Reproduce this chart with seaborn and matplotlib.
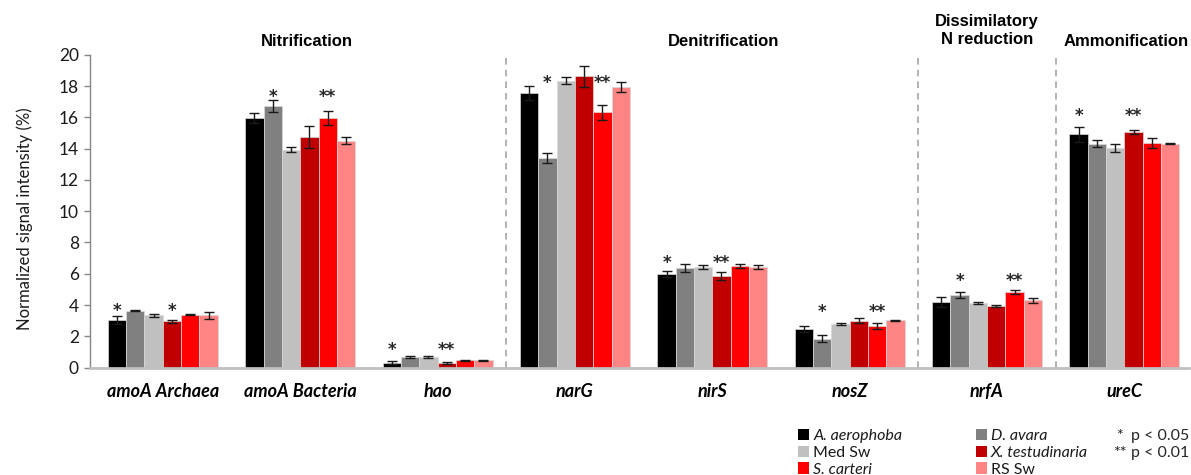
import numpy as np
import pandas as pd
import matplotlib
matplotlib.use("Agg")
import matplotlib.pyplot as plt
import seaborn as sns
from matplotlib.patches import Patch, Rectangle

# Genes (x categories) and sample series
genes = ["amoA Archaea", "amoA Bacteria", "hao", "narG", "nirS", "nosZ", "nrfA", "ureC"]
series = ["A. aerophoba", "D. avara", "Med Sw", "X. testudinaria", "S. carteri", "RS Sw"]
series_italic = [True, True, False, True, True, False]
colors = ["#000000", "#808080", "#c0c0c0", "#c00000", "#ff0000", "#ff8585"]

# Mean normalized signal intensity (%) and standard errors
a_aerophoba = [3.06, 15.97, 0.31, 17.55, 5.99, 2.45, 4.20, 14.92]
a_aerophoba_err = [0.26, 0.32, 0.10, 0.45, 0.17, 0.18, 0.30, 0.50]
d_avara = [3.63, 16.74, 0.65, 13.41, 6.36, 1.85, 4.63, 14.33]
d_avara_err = [0.04, 0.36, 0.07, 0.30, 0.25, 0.23, 0.20, 0.20]
med_sw = [3.33, 13.94, 0.65, 18.35, 6.42, 2.77, 4.12, 14.07]
med_sw_err = [0.08, 0.17, 0.07, 0.22, 0.12, 0.07, 0.07, 0.25]
x_testudinaria = [2.95, 14.76, 0.29, 18.64, 5.85, 2.98, 3.94, 15.05]
x_testudinaria_err = [0.12, 0.70, 0.05, 0.68, 0.25, 0.16, 0.07, 0.12]
s_carteri = [3.38, 15.95, 0.46, 16.33, 6.49, 2.66, 4.82, 14.37]
s_carteri_err = [0.05, 0.44, 0.05, 0.46, 0.15, 0.20, 0.12, 0.33]
rs_sw = [3.33, 14.52, 0.46, 17.96, 6.44, 3.02, 4.30, 14.33]
rs_sw_err = [0.22, 0.20, 0.03, 0.30, 0.15, 0.05, 0.15, 0.05]

values = [a_aerophoba, d_avara, med_sw, x_testudinaria, s_carteri, rs_sw]
errors = [a_aerophoba_err, d_avara_err, med_sw_err, x_testudinaria_err, s_carteri_err, rs_sw_err]

# Significance marks: (series index, mark) per gene, and height of the marks
sig_marks = [
    [(0, "*"), (3, "*")],
    [(1, "*"), (4, "**")],
    [(0, "*"), (3, "**")],
    [(1, "*"), (4, "**")],
    [(0, "*"), (3, "**")],
    [(1, "*"), (4, "**")],
    [(1, "*"), (4, "**")],
    [(0, "*"), (3, "**")],
]
sig_height = [3.6, 17.3, 1.15, 18.2, 6.7, 3.55, 5.55, 16.1]

# Process headings and their separators
process_labels = ["Nitrification", "Denitrification", "Dissimilatory\nN reduction", "Ammonification"]
process_x = [1.05, 4.08, 6.0, 7.01]
separators = [2.5, 5.5, 6.5]

df = pd.DataFrame(
    [(g, s, values[j][i]) for j, s in enumerate(series) for i, g in enumerate(genes)],
    columns=["gene", "series", "value"],
)

sns.set_theme(style="white")
plt.rcParams["font.family"] = ["Lato", "DejaVu Sans"]

fig = plt.figure(figsize=(11.91, 4.75), dpi=100)
ax = fig.add_axes([90 / 1191, 1 - 367.5 / 475, 1099 / 1191, 312.5 / 475])

group_width = 0.8
sns.barplot(
    data=df, x="gene", y="value", hue="series", order=genes, hue_order=series,
    palette=colors, errorbar=None, width=group_width, saturation=1, legend=False,
    edgecolor="#d9d9d9", linewidth=0.5, ax=ax,
)

# Error bars: locate each bar's gene / series from its position on the axis
step = group_width / len(series)
bar_x = {}
for bar in ax.patches:
    if not isinstance(bar, Rectangle) or bar.get_width() <= 0:
        continue
    xc = bar.get_x() + bar.get_width() / 2
    i = int(round(xc))
    j = int(round((xc - i + group_width / 2 - step / 2) / step))
    if not (0 <= i < len(genes) and 0 <= j < len(series)):
        continue
    bar_x[(i, j)] = xc
    ax.errorbar(xc, bar.get_height(), yerr=errors[j][i], fmt="none",
                ecolor="#1a1a1a", elinewidth=1.0, capsize=3.6, capthick=1.0, zorder=4)

for i, marks in enumerate(sig_marks):
    for j, m in marks:
        ax.text(bar_x[(i, j)], sig_height[i], m, ha="center", va="center",
                fontsize=12, fontweight="bold", color="#262626", family="DejaVu Sans")

for s in separators:
    ax.axvline(s, color="#a6a6a6", lw=1.2, ls=(0, (4, 3)), zorder=0)

for lab, x in zip(process_labels, process_x):
    yy = 20.87 if "\n" not in lab else 21.54
    ax.text(x, yy, lab, ha="center", va="center", fontsize=12, fontweight="bold",
            family="Liberation Sans", color="#000000", linespacing=1.25, clip_on=False)

ax.set_xlim(-0.53, 7.47)
ax.set_ylim(0, 20)
ax.set_yticks(np.arange(0, 21, 2))
ax.set_xlabel("")
ax.set_ylabel("Normalized signal intensity (%)", fontsize=12, color="#1a1a1a")
ax.yaxis.set_label_coords(-0.052, 0.475)
ax.tick_params(axis="y", which="both", left=True, length=4, width=1, color="#868686",
               labelsize=12.5, labelcolor="#1a1a1a", pad=4)
ax.tick_params(axis="x", bottom=False, labelsize=13, pad=5)
for t in ax.get_xticklabels():
    t.set_fontweight("bold")
    t.set_fontstyle("italic")
    t.set_color("#000000")

for side in ["top", "right"]:
    ax.spines[side].set_visible(False)
ax.spines["left"].set_color("#868686")
ax.spines["left"].set_linewidth(1.0)
ax.spines["bottom"].set_color("#bfbfbf")
ax.spines["bottom"].set_linewidth(2.0)

# Legend: three rows, two columns
order = [0, 2, 4, 1, 3, 5]
handles = [Patch(facecolor=colors[k], edgecolor="none") for k in order]
labels = [series[k] for k in order]
leg = fig.legend(handles=handles, labels=labels, ncol=2, loc="upper left",
                 bbox_to_anchor=(798 / 1191, 1 - 429 / 475), frameon=False,
                 fontsize=11.5, handlelength=0.7, handleheight=0.7,
                 handletextpad=0.25, labelspacing=0.16, columnspacing=4.6,
                 borderpad=0, borderaxespad=0)
for t, k in zip(leg.get_texts(), order):
    t.set_color("#1a1a1a")
    if series_italic[k]:
        t.set_fontstyle("italic")

fig.text(1116 / 1191, 1 - 436 / 475, "*", fontsize=11.5, ha="left", va="center")
fig.text(1131 / 1191, 1 - 436 / 475, "p < 0.05", fontsize=11.5, ha="left", va="center")
fig.text(1113 / 1191, 1 - 453 / 475, "**", fontsize=11.5, ha="left", va="center")
fig.text(1131 / 1191, 1 - 453 / 475, "p < 0.01", fontsize=11.5, ha="left", va="center")

fig.savefig("out.png", dpi=100)
